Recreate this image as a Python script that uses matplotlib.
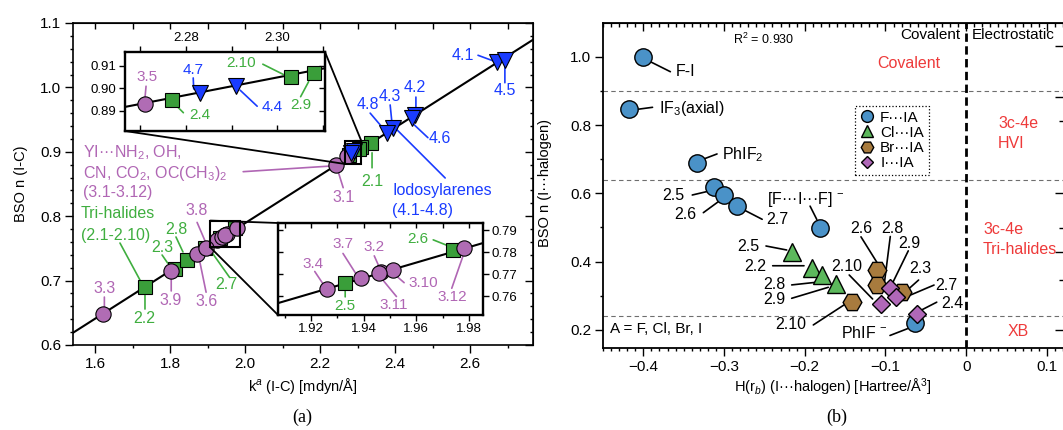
import matplotlib
matplotlib.use('Agg')
import matplotlib.pyplot as plt
from matplotlib.patches import Rectangle, ConnectionPatch
from matplotlib.lines import Line2D
from matplotlib.ticker import MultipleLocator, FixedLocator, NullFormatter, FuncFormatter, FixedFormatter
from matplotlib.transforms import offset_copy

plt.rcParams['font.family'] = ['Liberation Sans', 'DejaVu Sans']
plt.rcParams['mathtext.fontset'] = 'custom'
plt.rcParams['mathtext.rm'] = 'Liberation Sans'
plt.rcParams['mathtext.it'] = 'Liberation Sans:italic'
plt.rcParams['mathtext.bf'] = 'Liberation Sans:bold'

# ---------------- data, panel (a): BSO n(I-C) vs k^a(I-C) ----------------
tri_ids = ['2.1', '2.2', '2.3', '2.4', '2.5', '2.6', '2.7', '2.8', '2.9', '2.10']
tri_k = [2.336, 1.733, 1.812, 2.277, 1.933, 1.974, 1.892, 1.845, 2.308, 2.303]
tri_n = [0.914, 0.690, 0.718, 0.895, 0.766, 0.781, 0.750, 0.732, 0.907, 0.905]

yi_ids = ['3.1', '3.2', '3.3', '3.4', '3.5', '3.6', '3.7', '3.8', '3.9', '3.10', '3.11', '3.12']
yi_k = [2.243, 1.9465, 1.622, 1.926, 2.271, 1.872, 1.939, 1.896, 1.803, 1.951, 1.946, 1.978]
yi_n = [0.880, 0.771, 0.648, 0.763, 0.893, 0.741, 0.768, 0.750, 0.715, 0.772, 0.7707, 0.782]

io_ids = ['4.1', '4.2', '4.3', '4.4', '4.5', '4.6', '4.7', '4.8']
io_k = [2.672, 2.453, 2.395, 2.291, 2.693, 2.445, 2.283, 2.379]
io_n = [1.039, 0.957, 0.937, 0.901, 1.043, 0.953, 0.898, 0.929]

fit_k = [1.541, 2.768]
fit_n = [0.619, 1.074]
ins1_fit_k = [2.2666, 2.3105]
ins1_fit_n = [0.8918, 0.9090]
ins2_fit_k = [1.9075, 1.9853]
ins2_fit_n = [0.7568, 0.7841]

# ---------------- data, panel (b): BSO n(I...halogen) vs H(rb) ----------------
f_ids = ['F-I', 'IF3', 'PhIF2', '2.5', '2.6', '2.7', 'FIF', 'PhIF-']
f_H = [-0.400, -0.418, -0.3335, -0.3125, -0.300, -0.284, -0.181, -0.0634]
f_n = [1.000, 0.848, 0.690, 0.619, 0.596, 0.564, 0.498, 0.220]

cl_ids = ['2.5', '2.2', '2.8', '2.9']
cl_H = [-0.2158, -0.1914, -0.179, -0.1613]
cl_n = [0.429, 0.382, 0.361, 0.335]

br_ids = ['2.10', '2.6', '2.8', '2.3']
br_H = [-0.1418, -0.1105, -0.1105, -0.0795]
br_n = [0.281, 0.375, 0.332, 0.310]

i_ids = ['2.10', '2.9', '2.7', '2.4']
i_H = [-0.106, -0.0944, -0.0869, -0.0605]
i_n = [0.275, 0.324, 0.297, 0.246]

r2_text = 'R$^2$ = 0.930'
region_bounds = [0.9, 0.64, 0.24]

# ---------------- figure ----------------
W, H = 1063, 430
fig = plt.figure(figsize=(W / 100, H / 100), dpi=100)


def rect(x0, y0, x1, y1):
    return [x0 / W, 1 - y1 / H, (x1 - x0) / W, (y1 - y0) / H]


def fxy(x, y):
    return x / W, 1 - y / H


PURPLE_M = '#b06cb4'
PURPLE_T = '#b066b4'
GREEN_M = '#3a9e3a'
GREEN_T = '#3fae3f'
BLUE_M = '#1a3cff'
BLUE_T = '#1a3cff'
RED = '#ee3a3a'


def dots(ax, dx, dy):
    return offset_copy(ax.transData, fig=fig, x=dx, y=dy, units='dots')


def tag(ax, pt, txt, t, l0, l1, color, fs=11.5, ha='center', lw=1.2):
    x, y = pt
    ax.annotate('', xy=(x, y), xycoords=dots(ax, *l1), xytext=(x, y),
                textcoords=dots(ax, *l0),
                arrowprops=dict(arrowstyle='-', color=color, lw=lw,
                                shrinkA=0, shrinkB=0), zorder=2)
    if txt:
        ax.annotate(txt, xy=(x, y), xycoords=dots(ax, *t), ha=ha, va='center',
                    color=color, fontsize=fs, zorder=8)


def text_at(ax, pt, txt, t, color, fs=11.5, ha='left'):
    x, y = pt
    ax.annotate(txt, xy=(x, y), xycoords=dots(ax, *t), ha=ha, va='center',
                color=color, fontsize=fs, zorder=8)


TRI = dict(zip(tri_ids, zip(tri_k, tri_n)))
YI = dict(zip(yi_ids, zip(yi_k, yi_n)))
IO = dict(zip(io_ids, zip(io_k, io_n)))


def draw_series(ax):
    ax.plot(tri_k, tri_n, ls='none', marker='s', ms=9.5, mfc=GREEN_M, mec='k', mew=0.8, zorder=3)
    ax.plot(yi_k, yi_n, ls='none', marker='o', ms=11, mfc=PURPLE_M, mec='k', mew=0.8, zorder=4)
    ax.plot(io_k, io_n, ls='none', marker='v', ms=11.5, mfc=BLUE_M, mec='k', mew=0.8, zorder=5)


one_dec = FuncFormatter(lambda v, p: f'{v:.1f}')

# ---------- panel (a) main ----------
axA = fig.add_axes(rect(73, 23, 533, 345))
axA.set_xlim(1.541, 2.768)
axA.set_ylim(0.6, 1.1)
axA.plot(fit_k, fit_n, color='k', lw=1.5, zorder=2)
draw_series(axA)
axA.xaxis.set_major_locator(FixedLocator([1.6, 1.8, 2.0, 2.2, 2.4, 2.6]))
axA.xaxis.set_minor_locator(FixedLocator([1.6, 1.7, 1.8, 1.9, 2.0, 2.1, 2.2, 2.3, 2.4, 2.5, 2.6, 2.7]))
axA.yaxis.set_major_locator(FixedLocator([0.6, 0.7, 0.8, 0.9, 1.0, 1.1]))
axA.yaxis.set_minor_locator(MultipleLocator(0.02))
axA.xaxis.set_major_formatter(one_dec)
axA.yaxis.set_major_formatter(one_dec)
axA.tick_params(which='both', direction='out', labelsize=11, width=1, pad=3)
axA.tick_params(which='major', length=5.5)
axA.tick_params(which='minor', length=2.5)
for s in axA.spines.values():
    s.set_linewidth(1.2)
secA_t = axA.secondary_xaxis('top')
secA_t.xaxis.set_major_locator(MultipleLocator(0.1))
secA_t.xaxis.set_major_formatter(NullFormatter())
secA_t.tick_params(direction='in', length=4, width=1)
secA_r = axA.secondary_yaxis('right')
secA_r.yaxis.set_major_locator(FixedLocator([0.6, 0.7, 0.8, 0.9, 1.0, 1.1]))
secA_r.yaxis.set_minor_locator(MultipleLocator(0.02))
secA_r.yaxis.set_major_formatter(NullFormatter())
secA_r.tick_params(which='both', direction='in', width=1)
secA_r.tick_params(which='major', length=5.5)
secA_r.tick_params(which='minor', length=2.5)

# labels on main panel
tag(axA, YI['3.3'], '3.3', (1, 26), (1, 17), (1, 7), PURPLE_T)
tag(axA, YI['3.9'], '3.9', (-1, -30), (0, -20), (0, -8), PURPLE_T)
tag(axA, TRI['2.2'], '2.2', (-1, -31), (0, -22), (0, -8), GREEN_T)
tag(axA, TRI['2.3'], '2.3', (-12.5, 22), (-12.5, 14), (-7, 6), GREEN_T)
tag(axA, TRI['2.8'], '2.8', (-11, 30), (-11, 23), (-4, 8), GREEN_T)
tag(axA, YI['3.8'], '3.8', (-9, 38), (-9, 26), (0, 5), PURPLE_T)
tag(axA, YI['3.6'], '3.6', (9, -47), (9, -38), (2, -4), PURPLE_T)
tag(axA, TRI['2.7'], '2.7', (22, -36), (8, -5), (25, -29), GREEN_T)
tag(axA, TRI['2.2'], '', None, (-25, 44), (-5, 7), GREEN_T)
text_at(axA, TRI['2.2'], 'Tri-halides', (-64, 74), GREEN_T)
text_at(axA, TRI['2.2'], '(2.1-2.10)', (-64, 52), GREEN_T)
tag(axA, YI['3.1'], '', None, (-93, -7), (0, -1), PURPLE_T)
text_at(axA, YI['3.1'], 'YI\u00b7\u00b7\u00b7NH$_2$, OH,', (-253, 12), PURPLE_T)
text_at(axA, YI['3.1'], 'CN, CO$_2$, OC(CH$_3$)$_2$', (-253, -9), PURPLE_T)
text_at(axA, YI['3.1'], '(3.1-3.12)', (-253, -28), PURPLE_T)
tag(axA, YI['3.1'], '3.1', (7, -33), (2, -7), (7, -23), PURPLE_T)
tag(axA, TRI['2.1'], '2.1', (1, -39), (1, -10), (1, -25), GREEN_T)
tag(axA, IO['4.3'], '', None, (2, 0), (52, -50), BLUE_T)
text_at(axA, IO['4.3'], 'Iodosylarenes', (-1, -63), BLUE_T)
text_at(axA, IO['4.3'], '(4.1-4.8)', (-1, -83), BLUE_T)
tag(axA, IO['4.8'], '4.8', (-19, 29), (-17, 20), (0, 0), BLUE_T)
tag(axA, IO['4.3'], '4.3', (-3, 31), (-3, 23), (-1, 3), BLUE_T)
tag(axA, IO['4.2'], '4.2', (0, 28), (1, 18), (1, 5), BLUE_T)
tag(axA, IO['4.6'], '4.6', (28, -21), (0, -5), (16, -20), BLUE_T)
tag(axA, IO['4.1'], '4.1', (-34, 7), (-19, 7), (0, 0), BLUE_T)
tag(axA, IO['4.5'], '4.5', (0, -31), (0, -3), (0, -23), BLUE_T)

# ---------- inset 1 ----------
ins1 = fig.add_axes(rect(125, 52, 325, 131))
ins1.set_xlim(ins1_fit_k[0], ins1_fit_k[1])
ins1.set_ylim(0.8811, 0.9162)
ins1.plot(ins1_fit_k, ins1_fit_n, color='k', lw=1.5, zorder=2)
draw_series(ins1)
ins1.xaxis.tick_top()
ins1.xaxis.set_major_locator(FixedLocator([2.27, 2.28, 2.29, 2.30, 2.31]))
ins1.xaxis.set_major_formatter(FixedFormatter(['', '2.28', '', '2.30', '']))
ins1.yaxis.set_major_locator(FixedLocator([0.89, 0.90, 0.91]))
ins1.yaxis.set_major_formatter(FuncFormatter(lambda v, p: f'{v:.2f}'))
ins1.tick_params(which='both', direction='out', labelsize=9.5, length=4, width=1, pad=2)
for s in ins1.spines.values():
    s.set_linewidth(1.7)
s1b = ins1.secondary_xaxis('bottom')
s1b.xaxis.set_major_locator(FixedLocator([2.27, 2.28, 2.29, 2.30, 2.31]))
s1b.xaxis.set_major_formatter(NullFormatter())
s1b.tick_params(direction='in', length=4, width=1)
s1r = ins1.secondary_yaxis('right')
s1r.yaxis.set_major_locator(FixedLocator([0.89, 0.90, 0.91]))
s1r.yaxis.set_major_formatter(NullFormatter())
s1r.tick_params(direction='in', length=4, width=1)

tag(ins1, YI['3.5'], '3.5', (2, 27), (1, 18), (0, 7), PURPLE_T, fs=11)
tag(ins1, TRI['2.4'], '2.4', (27, -15), (5, -7), (11, -13), GREEN_T, fs=11)
tag(ins1, IO['4.7'], '4.7', (-7, 23), (-6.5, 15), (-6, 4), BLUE_T, fs=11)
tag(ins1, IO['4.4'], '4.4', (36, -21), (4, -4), (21, -20), BLUE_T, fs=11)
tag(ins1, TRI['2.10'], '2.10', (-50, 14), (-28, 13), (-6, 2), GREEN_T, fs=11)
tag(ins1, TRI['2.9'], '2.9', (-13, -32), (-5, -9), (-13, -24), GREEN_T, fs=11)

# ---------- inset 2 ----------
ins2 = fig.add_axes(rect(278, 223, 483, 315))
ins2.set_xlim(ins2_fit_k[0], ins2_fit_k[1])
ins2.set_ylim(0.7514, 0.7932)
ins2.plot(ins2_fit_k, ins2_fit_n, color='k', lw=1.5, zorder=2)
draw_series(ins2)
ins2.yaxis.tick_right()
ins2.xaxis.set_major_locator(FixedLocator([1.92, 1.94, 1.96, 1.98]))
ins2.xaxis.set_minor_locator(FixedLocator([1.91, 1.93, 1.95, 1.97]))
ins2.xaxis.set_major_formatter(FuncFormatter(lambda v, p: f'{v:.2f}'))
ins2.yaxis.set_major_locator(FixedLocator([0.76, 0.77, 0.78, 0.79]))
ins2.yaxis.set_major_formatter(FuncFormatter(lambda v, p: f'{v:.2f}'))
ins2.tick_params(which='both', direction='out', labelsize=9.5, width=1, pad=2)
ins2.tick_params(which='major', length=4)
ins2.tick_params(which='minor', length=2.5)
for s in ins2.spines.values():
    s.set_linewidth(1.7)
s2t = ins2.secondary_xaxis('top')
s2t.xaxis.set_major_locator(FixedLocator([1.91, 1.92, 1.93, 1.94, 1.95, 1.96, 1.97, 1.98]))
s2t.xaxis.set_major_formatter(NullFormatter())
s2t.tick_params(direction='in', length=3.5, width=1)
s2l = ins2.secondary_yaxis('left')
s2l.yaxis.set_major_locator(FixedLocator([0.76, 0.77, 0.78, 0.79]))
s2l.yaxis.set_major_formatter(NullFormatter())
s2l.tick_params(direction='in', length=3.5, width=1)

tag(ins2, YI['3.4'], '3.4', (-14, 25), (-12, 18), (-4, 6), PURPLE_T, fs=11)
tag(ins2, TRI['2.5'], '2.5', (0, -23), (0, -6), (0, -14), GREEN_T, fs=11)
tag(ins2, YI['3.7'], '3.7', (-18, 34.5), (-18, 25), (-4, 3), PURPLE_T, fs=11)
tag(ins2, YI['3.2'], '3.2', (-7, 25), (-6.5, 16), (-2.5, 7), PURPLE_T, fs=11)
tag(ins2, YI['3.11'], '3.11', (14, -32), (3, -7), (17, -24), PURPLE_T, fs=11)
tag(ins2, YI['3.10'], '3.10', (30.5, -13), (4, -6.5), (11.5, -13), PURPLE_T, fs=11)
tag(ins2, TRI['2.6'], '2.6', (-35, 11), (-20, 10), (-5, 4), GREEN_T, fs=11)
tag(ins2, YI['3.12'], '3.12', (-11.6, -49), (-12, -40.6), (-1, -9), PURPLE_T, fs=11)

# zoom boxes and connectors
b1 = (ins1.get_xlim()[0], ins1.get_ylim()[0], ins1.get_xlim()[1], ins1.get_ylim()[1])
b2 = (ins2.get_xlim()[0], ins2.get_ylim()[0], ins2.get_xlim()[1], ins2.get_ylim()[1])
for b in (b1, b2):
    axA.add_patch(Rectangle((b[0], b[1]), b[2] - b[0], b[3] - b[1], fill=False,
                            ec='k', lw=1.5, zorder=6))
for (ia, ib, ins, b) in [((0, 0), (0, 1), ins1, b1), ((1, 1), (2, 3), ins1, b1),
                         ((0, 1), (0, 3), ins2, b2), ((0, 0), (0, 1), ins2, b2)]:
    fig.add_artist(ConnectionPatch(xyA=ia, coordsA=ins.transAxes,
                                   xyB=(b[ib[0]], b[ib[1]]), coordsB=axA.transData,
                                   color='k', lw=1.3))

fig.text(*fxy(21, 184), 'BSO n (I-C)', rotation=90, ha='center', va='center', fontsize=10.5)
fig.text(*fxy(303, 386), 'k$^a$ (I-C) [mdyn/\u00c5]', ha='center', va='center', fontsize=10.5)
fig.text(*fxy(302, 417), '(a)', ha='center', va='center', fontsize=13, family='Liberation Serif')

# ---------- panel (b) ----------
axB = fig.add_axes(rect(603, 23, 1065, 348))
axB.set_xlim(-0.45, -0.45 + 462 / 807)
axB.set_ylim(0.147, 0.147 + 325 / 341.5)
for yb in region_bounds:
    axB.axhline(yb, color='#6e6e6e', ls=(0, (4, 3)), lw=0.8, zorder=1)
axB.axvline(0, color='k', ls=(0, (3, 1.6)), lw=2.0, zorder=1)

FC = '#4a92c8'
CLC = '#5cb85c'
BRC = '#a87b3e'
IC = '#b068b8'
axB.plot(f_H, f_n, ls='none', marker='o', ms=12.5, mfc=FC, mec='k', mew=1.0, zorder=3)
axB.plot(cl_H, cl_n, ls='none', marker='^', ms=13, mfc=CLC, mec='k', mew=1.0, zorder=4)
axB.plot(br_H, br_n, ls='none', marker='H', ms=13.5, mfc=BRC, mec='k', mew=1.0, zorder=5)
axB.plot(i_H, i_n, ls='none', marker='D', ms=9.5, mfc=IC, mec='k', mew=1.0, zorder=6)

axB.xaxis.set_major_locator(FixedLocator([-0.4, -0.3, -0.2, -0.1, 0.0, 0.1]))
axB.xaxis.set_minor_locator(MultipleLocator(0.01))
axB.xaxis.set_major_formatter(FuncFormatter(lambda v, p: '0' if abs(v) < 1e-9 else f'{v:.1f}'.replace('-', '\u2212')))
axB.yaxis.set_major_locator(FixedLocator([0.2, 0.4, 0.6, 0.8, 1.0]))
axB.yaxis.set_minor_locator(FixedLocator([0.3, 0.5, 0.7, 0.9, 1.1]))
axB.yaxis.set_major_formatter(one_dec)
axB.tick_params(which='both', direction='out', labelsize=11, width=1, pad=3)
axB.tick_params(which='major', length=5.5)
axB.tick_params(which='minor', length=2.5)
for s in axB.spines.values():
    s.set_linewidth(1.3)
secB_t = axB.secondary_xaxis('top')
secB_t.xaxis.set_major_locator(FixedLocator([-0.4, -0.3, -0.2, -0.1, 0.0, 0.1]))
secB_t.xaxis.set_minor_locator(MultipleLocator(0.01))
secB_t.xaxis.set_major_formatter(NullFormatter())
secB_t.tick_params(which='both', direction='in', width=1)
secB_t.tick_params(which='major', length=5.5)
secB_t.tick_params(which='minor', length=3)
secB_r = axB.secondary_yaxis('right')
secB_r.yaxis.set_major_locator(FixedLocator([1.031, 0.882, 0.601, 0.428, 0.200]))
secB_r.yaxis.set_minor_locator(FixedLocator([0.812, 0.498, 0.346]))
secB_r.yaxis.set_major_formatter(NullFormatter())
secB_r.tick_params(which='both', direction='in', width=1)
secB_r.tick_params(which='major', length=7)
secB_r.tick_params(which='minor', length=4)

F = dict(zip(f_ids, zip(f_H, f_n)))
CL = dict(zip(cl_ids, zip(cl_H, cl_n)))
BR = dict(zip(br_ids, zip(br_H, br_n)))
II = dict(zip(i_ids, zip(i_H, i_n)))
K = 'k'
tag(axB, F['F-I'], 'F-I', (42, -15), (7, -5), (27, -15), K)
tag(axB, F['IF3'], 'IF$_3$(axial)', (29.7, 0.3), (8.7, -0.7), (23.7, 1.3), K, ha='left')
tag(axB, F['PhIF2'], 'PhIF$_2$', (25.3, 7.6), (6, 3.3), (20, 8.6), K, ha='left')
tag(axB, F['2.5'], '2.5', (-40.4, -8.2), (-21.7, -8.2), (-7.7, -4.9), K)
tag(axB, F['2.6'], '2.6', (-39, -20.3), (-20.7, -18), (-5.7, -7), K)
tag(axB, F['2.7'], '2.7', (40.2, -14.4), (8.5, -5.1), (25.2, -13.7), K)
tag(axB, F['FIF'], '[F\u00b7\u00b7\u00b7I\u00b7\u00b7\u00b7F]$^{\\ -}$', (-14.3, 28.7), (-10, 22), (-3.3, 8.7), K)
tag(axB, F['PhIF-'], 'PhIF$^{\\ -}$', (-51, -10), (-25, -12.4), (-7.7, -5.7), K)
tag(axB, CL['2.5'], '2.5', (-44, 5), (-26, 5.7), (-5.3, 1.7), K)
tag(axB, CL['2.2'], '2.2', (-56.7, 1), (-39, 2), (-7.7, 2), K)
tag(axB, CL['2.8'], '2.8', (-47.7, -10), (-30, -10), (-5, -7.3), K)
tag(axB, CL['2.9'], '2.9', (-62, -16.2), (-44.3, -14.5), (-7.7, -3.5), K)
tag(axB, BR['2.10'], '2.10', (-61, -22.7), (-38.4, -22.7), (-7.7, -2.7), K)
tag(axB, BR['2.6'], '2.6', (-16, 41.7), (-16, 33.3), (0.6, 6.7), K)
tag(axB, BR['2.8'], '2.8', (15.6, 56.7), (13.3, 48.3), (7.6, 3.3), K)
tag(axB, BR['2.3'], '2.3', (18.3, 24), (16.6, 12.3), (4.3, 1.3), K)
tag(axB, II['2.10'], '2.10', (-33.4, 37.6), (-31.4, 29.3), (-8, 5.3), K)
tag(axB, II['2.9'], '2.9', (19, 44.4), (18.3, 36.7), (3.3, 6), K)
tag(axB, II['2.7'], '2.7', (50.7, 11.7), (38, 11.7), (8, -1), K)
tag(axB, II['2.4'], '2.4', (35, 11), (19.4, 12), (4.4, 4.3), K)

fig.text(*fxy(733, 39), r2_text, ha='left', va='center', fontsize=9)
fig.text(*fxy(960, 35), 'Covalent', ha='right', va='center', fontsize=11)
fig.text(*fxy(972, 35), 'Electrostatic', ha='left', va='center', fontsize=11)
fig.text(*fxy(909, 63), 'Covalent', ha='center', va='center', fontsize=11.5, color=RED)
fig.text(*fxy(998, 123), '3c-4e', ha='left', va='center', fontsize=11.5, color=RED)
fig.text(*fxy(998, 143), 'HVI', ha='left', va='center', fontsize=11.5, color=RED)
fig.text(*fxy(983, 230), '3c-4e', ha='left', va='center', fontsize=11.5, color=RED)
fig.text(*fxy(983, 249), 'Tri-halides', ha='left', va='center', fontsize=11.5, color=RED)
fig.text(*fxy(1018, 332), 'XB', ha='center', va='center', fontsize=11.5, color=RED)
fig.text(*fxy(610, 329), 'A = F, Cl, Br, I', ha='left', va='center', fontsize=11)

handles = [
    Line2D([], [], ls='none', marker='o', ms=8.5, mfc=FC, mec='k', mew=1.0),
    Line2D([], [], ls='none', marker='^', ms=9, mfc=CLC, mec='k', mew=1.0),
    Line2D([], [], ls='none', marker='H', ms=9, mfc=BRC, mec='k', mew=1.0),
    Line2D([], [], ls='none', marker='D', ms=6.5, mfc=IC, mec='k', mew=1.0),
]
dd = '\u00b7\u00b7\u00b7'
leg = axB.legend(handles, ['F' + dd + 'IA', 'Cl' + dd + 'IA', 'Br' + dd + 'IA', 'I' + dd + 'IA'],
                 loc='upper left', bbox_to_anchor=fxy(855, 106), bbox_transform=fig.transFigure,
                 fontsize=11, frameon=True, fancybox=False, borderaxespad=0,
                 borderpad=0.3, labelspacing=0.08, handlelength=1.0, handletextpad=0.35)
fr = leg.get_frame()
fr.set_edgecolor('k')
fr.set_linewidth(0.9)
fr.set_linestyle(':')
fr.set_alpha(None)
leg.set_zorder(9)

fig.text(*fxy(545, 183), 'BSO n (I\u00b7\u00b7\u00b7halogen)', rotation=90, ha='center', va='center', fontsize=10.5)
fig.text(*fxy(833, 387), 'H(r$_b$) (I\u00b7\u00b7\u00b7halogen) [Hartree/\u00c5$^3$]', ha='center', va='center', fontsize=10.5)
fig.text(*fxy(837, 417), '(b)', ha='center', va='center', fontsize=13, family='Liberation Serif')

fig.savefig('out.png', dpi=100)
